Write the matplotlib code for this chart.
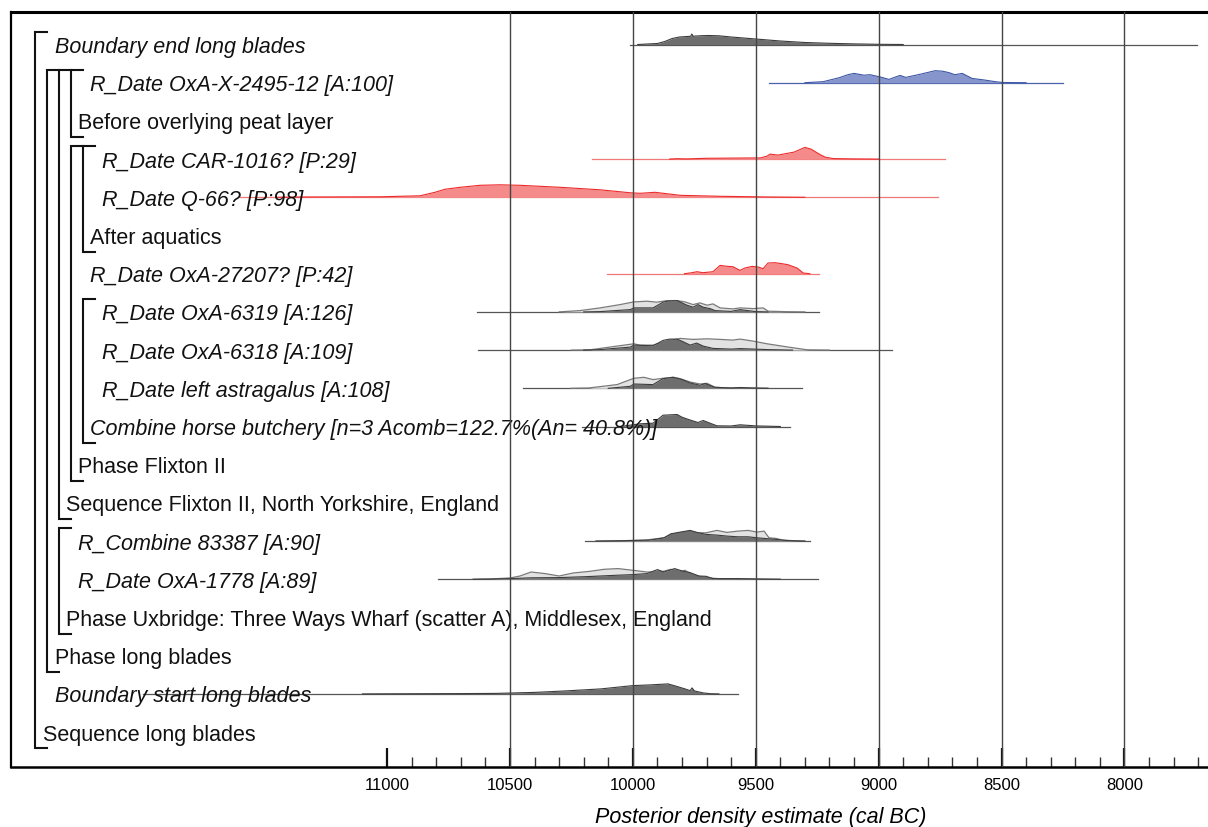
import numpy as np
import matplotlib
matplotlib.use("Agg")
import matplotlib.pyplot as plt

plt.rcParams['font.family'] = ['Liberation Sans', 'DejaVu Sans']

# ── rows (top to bottom) ──────────────────────────────────────────────────────
labels = [
    "Boundary end long blades",
    "R_Date OxA-X-2495-12 [A:100]",
    "Before overlying peat layer",
    "R_Date CAR-1016? [P:29]",
    "R_Date Q-66? [P:98]",
    "After aquatics",
    "R_Date OxA-27207? [P:42]",
    "R_Date OxA-6319 [A:126]",
    "R_Date OxA-6318 [A:109]",
    "R_Date left astragalus [A:108]",
    "Combine horse butchery [n=3 Acomb=122.7%(An= 40.8%)]",
    "Phase Flixton II",
    "Sequence Flixton II, North Yorkshire, England",
    "R_Combine 83387 [A:90]",
    "R_Date OxA-1778 [A:89]",
    "Phase Uxbridge: Three Ways Wharf (scatter A), Middlesex, England",
    "Phase long blades",
    "Boundary start long blades",
    "Sequence long blades",
]
depth = [1, 4, 3, 5, 5, 4, 4, 5, 5, 5, 4, 3, 2, 3, 3, 2, 1, 1, 0]
italic = [True, True, False, True, True, False, True, True, True, True, True,
          False, False, True, True, False, False, True, False]

# groups: (first row, last row, bracket level)
groups = [(0, 18, 0), (1, 16, 1), (1, 12, 2), (1, 2, 3), (3, 11, 3),
          (3, 5, 4), (7, 10, 4), (13, 15, 2)]

# ── distributions (cal BC, relative density) ─────────────────────────────────
# row, extent of range line, colour scheme
ranges = {0: (10010, 7705, "grey"), 1: (9446, 8250, "blue"),
          3: (10165, 8730, "red"), 4: (11598, 8758, "red"),
          6: (10105, 9243, "red"), 7: (10634, 9243, "grey"),
          8: (10630, 8945, "grey"), 9: (10447, 9312, "grey"),
          10: (10207, 9360, "grey"), 13: (10195, 9280, "grey"),
          14: (10792, 9247, "grey"), 17: (11993, 9572, "grey")}

end_yr = [9980, 9940, 9900, 9870, 9840, 9810, 9780, 9765, 9760, 9755, 9720,
          9690, 9650, 9600, 9500, 9400, 9300, 9200, 9100, 9000, 8900]
end_d = [0, 0.5, 1, 3, 6, 7.5, 8, 8.2, 10.5, 8.3, 8.8, 9, 8.7, 7.5, 5.5, 3.5,
         2, 1.2, 0.6, 0.2, 0]

oxa2495_yr = [9300, 9226, 9160, 9125, 9100, 9060, 9035, 8990, 8958, 8913, 8890,
              8830, 8770, 8740, 8713, 8690, 8660, 8620, 8570, 8525, 8495, 8400]
oxa2495_d = [0, 1, 5, 8, 9.3, 7.5, 8, 5.5, 3.3, 7.3, 5.3, 8.5, 12, 11.5, 10,
             8, 9.3, 4.3, 2.7, 1, 0.2, 0]

car_yr = [9850, 9820, 9780, 9700, 9600, 9480, 9454, 9442, 9410, 9344, 9300,
          9275, 9242, 9218, 9185, 9100, 9000]
car_d = [0, 0.4, 0.2, 0.8, 1, 1.2, 3, 5, 4, 7, 11.7, 10, 5, 2, 0.5, 0.2, 0]

q66_yr = [11450, 11354, 11028, 10866, 10805, 10765, 10703, 10622, 10540,
          10459, 10296, 10133, 10010, 9970, 9910, 9808, 9645, 9442, 9300]
q66_d = [0, 0.3, 0.5, 1.5, 5, 8, 10, 12, 12.5, 12, 10, 7.5, 4.5, 4, 5, 2, 1,
         0.3, 0]

oxa27207_yr = [9790, 9759, 9739, 9715, 9674, 9645, 9613, 9593, 9564, 9544,
               9515, 9490, 9470, 9450, 9422, 9393, 9369, 9332, 9307, 9280]
oxa27207_d = [0, 1, 2, 1, 2, 8.3, 7.3, 7, 3.3, 5.7, 7.3, 6.7, 5, 10.7, 11, 10,
              9, 5.7, 0.7, 0]

oxa6319_prior_yr = [10300, 10215, 10133, 10052, 9996, 9942, 9902, 9861, 9820,
                    9788, 9755, 9727, 9698, 9674, 9645, 9593, 9564, 9511, 9470,
                    9450, 9373, 9300]
oxa6319_prior_d = [0, 1.3, 4, 7.3, 10, 10.7, 9.7, 11.3, 11.3, 10, 7.3, 9, 6.7,
                   8, 4, 3, 4, 3.3, 4, 0.7, 0.2, 0]
oxa6319_yr = [10200, 10133, 10010, 9996, 9918, 9877, 9861, 9820, 9800, 9780,
              9755, 9735, 9714, 9686, 9666, 9600, 9564, 9500, 9450]
oxa6319_d = [0, 0.3, 2.3, 4, 4, 9.7, 10.7, 11.3, 9, 6.7, 4.7, 7.3, 4.7, 3.3,
             1.3, 0.5, 2.3, 0.3, 0]

oxa6318_prior_yr = [10250, 10174, 10064, 9996, 9971, 9918, 9861, 9808, 9755,
                    9698, 9645, 9593, 9564, 9511, 9454, 9401, 9348, 9291, 9200]
oxa6318_prior_d = [0, 0.3, 4, 6.3, 5, 5, 9, 11.7, 10.7, 11.3, 10.7, 10, 11, 9,
                   6.3, 4.3, 2.3, 0.3, 0]
oxa6318_yr = [10200, 10133, 10010, 9996, 9918, 9877, 9850, 9820, 9795, 9767,
              9740, 9714, 9674, 9600, 9564, 9450, 9350]
oxa6318_d = [0, 0.5, 3, 5, 4.3, 9.7, 11, 11, 8.3, 5, 7, 4, 1.7, 1, 1.5, 0.5, 0]

astrag_prior_yr = [10250, 10180, 10064, 9996, 9955, 9918, 9877, 9836, 9808,
                   9767, 9727, 9698, 9666, 9600, 9450]
astrag_prior_d = [0, 0.3, 3.7, 10, 11, 8.7, 10, 11, 9.7, 6.3, 4.3, 5, 1, 0.3, 0]
astrag_yr = [10100, 10010, 9996, 9918, 9877, 9836, 9800, 9767, 9727, 9706,
             9666, 9600, 9564, 9500, 9450]
astrag_d = [0, 2, 4.3, 3.7, 9.7, 11, 8.7, 5.3, 3, 4.7, 1, 0.3, 0.8, 0.2, 0]

combine_yr = [10050, 9971, 9918, 9877, 9820, 9800, 9770, 9735, 9714, 9686,
              9658, 9600, 9564, 9500, 9450, 9400]
combine_d = [0, 2.7, 3.3, 11.3, 12, 9.3, 6.7, 4, 6, 3.3, 0.7, 0.5, 1.7, 0.6,
             0.3, 0]

r83387_prior_yr = [10150, 10060, 9950, 9873, 9845, 9800, 9767, 9739, 9702,
                   9658, 9617, 9572, 9531, 9495, 9466, 9446, 9418, 9389, 9330,
                   9300]
r83387_prior_d = [0, 0.3, 1, 3.3, 6.7, 8.7, 10, 8.3, 8.3, 10.7, 8.7, 10, 10.7,
                  9, 10, 3.3, 2.7, 1, 0.2, 0]
r83387_yr = [10150, 10060, 9930, 9873, 9845, 9800, 9767, 9739, 9702, 9658,
             9617, 9572, 9531, 9495, 9466, 9418, 9370, 9300]
r83387_d = [0, 0.3, 1, 3.3, 7.3, 9.3, 10.7, 8.7, 6.7, 6, 5, 4.3, 4.3, 3.3, 2.7,
            1.7, 0.5, 0]

oxa1778_prior_yr = [10650, 10585, 10500, 10459, 10414, 10357, 10300, 10243,
                    10174, 10117, 10060, 10000, 9943, 9887, 9845, 9816, 9788,
                    9759, 9731, 9686, 9645, 9500, 9400]
oxa1778_prior_d = [0, 0.3, 1.3, 3.3, 7.3, 5.7, 3.3, 6.3, 8, 10, 10.7, 9, 7.3,
                   7.3, 10, 7.3, 9, 4.7, 3, 1.3, 0.5, 0.3, 0]
oxa1778_yr = [10650, 10585, 10500, 10414, 10300, 10185, 10070, 10000, 9943,
              9900, 9873, 9830, 9795, 9767, 9731, 9702, 9674, 9572, 9480, 9400]
oxa1778_d = [0, 0.2, 0.7, 1.5, 1.7, 2.7, 4, 4.7, 5.7, 9.7, 7.3, 10.7, 8, 6.7,
             3.3, 3, 0.7, 0.7, 0.2, 0]

start_yr = [11100, 10988, 10703, 10557, 10400, 10272, 10130, 10000, 9930, 9857,
            9824, 9788, 9767, 9759, 9750, 9714, 9686, 9650]
start_d = [0, 0.1, 0.3, 0.5, 1.5, 3, 5, 8.3, 9, 10, 7.7, 5, 3.3, 6, 3, 1, 0.2, 0]

posteriors = {0: (end_yr, end_d), 1: (oxa2495_yr, oxa2495_d),
              3: (car_yr, car_d), 4: (q66_yr, q66_d),
              6: (oxa27207_yr, oxa27207_d), 7: (oxa6319_yr, oxa6319_d),
              8: (oxa6318_yr, oxa6318_d), 9: (astrag_yr, astrag_d),
              10: (combine_yr, combine_d), 13: (r83387_yr, r83387_d),
              14: (oxa1778_yr, oxa1778_d), 17: (start_yr, start_d)}
priors = {7: (oxa6319_prior_yr, oxa6319_prior_d),
          8: (oxa6318_prior_yr, oxa6318_prior_d),
          9: (astrag_prior_yr, astrag_prior_d),
          13: (r83387_prior_yr, r83387_prior_d),
          14: (oxa1778_prior_yr, oxa1778_prior_d)}

major_ticks = [11000, 10500, 10000, 9500, 9000, 8500, 8000]
grid_years = [10500, 10000, 9500, 9000, 8500, 8000]

# ── styling ───────────────────────────────────────────────────────────────────
W, H = 1208, 828
ROW_PX = 38.2
SCHEME = {
    "grey": dict(fill="#6e6e6e", edge="#3c3c3c", base="#555555"),
    "red": dict(fill="#f58a8a", edge="#ec2a2a", base="#f07878"),
    "blue": dict(fill="#8696cc", edge="#3d56a6", base="#4a62ae"),
}

fig = plt.figure(figsize=(W / 100, H / 100), dpi=100)
ax_l, ax_r, ax_t, ax_b = 11, W, 13, 768
ax = fig.add_axes([ax_l / W, 1 - ax_b / H, (ax_r - ax_l) / W, (ax_b - ax_t) / H])

ax.set_xlim(12530, 7660)
y_top = (ax_t - 45.5) / ROW_PX
y_bot = (ax_b - 45.5) / ROW_PX
ax.set_ylim(y_bot, y_top)


def px_to_axes(x):
    return (x - ax_l) / (ax_r - ax_l)


ytrans = ax.get_yaxis_transform()
dscale = 1 / ROW_PX

# gridlines
for g in grid_years:
    ax.axvline(g, color="#444444", lw=1.0, zorder=6)

# distributions
for row, (x0, x1, sch) in ranges.items():
    st = SCHEME[sch]
    ax.plot([x0, x1], [row, row], color=st["base"], lw=0.9, zorder=2)
    if row in priors:
        yr, d = priors[row]
        top = row - np.array(d) * dscale
        ax.fill_between(yr, row, top, color="#e2e2e2", lw=0, zorder=2.5)
        ax.plot(yr, top, color="#7a7a7a", lw=0.9, zorder=2.6)
    yr, d = posteriors[row]
    top = row - np.array(d) * dscale
    ax.fill_between(yr, row, top, color=st["fill"], lw=0, zorder=3)
    ax.plot(yr, top, color=st["edge"], lw=0.8, zorder=3.1)

# labels
for i, lab in enumerate(labels):
    ax.text(px_to_axes(43 + 11.75 * depth[i]), i + 7.5 / ROW_PX, lab,
            transform=ytrans, fontsize=15.5, va="baseline", ha="left",
            style="italic" if italic[i] else "normal", color="#111111",
            zorder=5)

# brackets
for r0, r1, lev in groups:
    x = px_to_axes(35 + 12 * lev)
    xe = px_to_axes(35 + 12 * lev + 12)
    yt = r0 - 13 / ROW_PX
    yb = r1 + 16 / ROW_PX
    ax.plot([xe, x, x, xe], [yt, yt, yb, yb], color="#111111", lw=1.5,
            transform=ytrans, solid_joinstyle="miter", zorder=5)

# axes
ax.set_xticks(major_ticks)
ax.set_xticklabels([str(t) for t in major_ticks])
ax.set_xticks(np.arange(11000, 7650, -100), minor=True)
ax.tick_params(axis="x", which="major", direction="in", length=14, width=1.6,
               labelsize=12, pad=7, color="#111111")
ax.tick_params(axis="x", which="minor", direction="in", length=7, width=1.0,
               color="#333333")
ax.set_yticks([])
ax.spines["right"].set_visible(False)
ax.spines["top"].set_linewidth(2.2)
ax.spines["left"].set_linewidth(1.6)
ax.spines["bottom"].set_linewidth(1.8)

fig.text(761 / W, 1 - 818 / H, "Posterior density estimate (cal BC)",
         ha="center", va="center", fontsize=15.5, style="italic")

fig.savefig("out.png", dpi=100)
